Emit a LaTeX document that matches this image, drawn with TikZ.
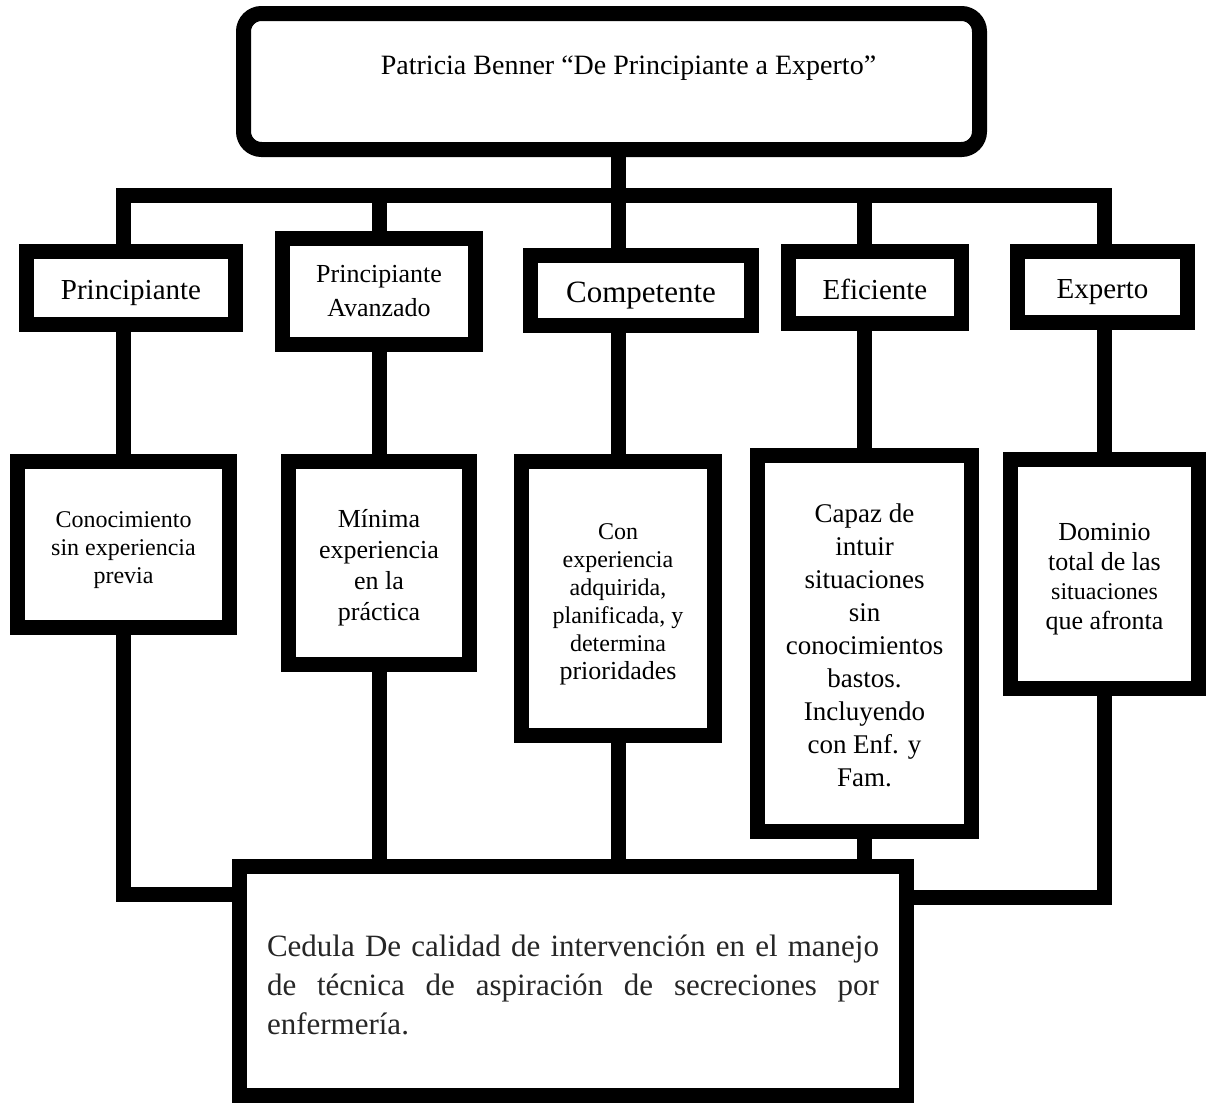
\documentclass[tikz,border=0pt]{standalone}
\usepackage{fontspec}
\setmainfont{Liberation Serif}
\usetikzlibrary{backgrounds}
\newcommand\fsz[2]{\fontsize{#1}{#2}\selectfont}
\newcommand\topgap[1]{\rule{0pt}{#1}}
\tikzset{
  stage/.style={draw, line width=7.5pt, fill=white, align=center, inner sep=0pt},
  level/.style={stage, text height=15pt, text depth=3.5pt},
  link/.style={line width=7.5pt, line cap=rect}
}

\begin{document}
\begin{tikzpicture}[x=0.5pt, y=-0.5pt]
\useasboundingbox (0,0) rectangle (1206,1103);
% titulo
\node[stage, rounded corners=9pt, minimum width=368pt, minimum height=68pt, text depth=16pt, font=\fsz{14pt}{17pt}] (title) at (611.5,81.5) {\hspace*{17pt}Patricia Benner “De Principiante a Experto”};
% niveles
\node[level, minimum width=104.5pt, minimum height=36.5pt, font=\fsz{14.5pt}{17pt}] (p1) at (131,288) {Principiante};
\node[stage, minimum width=96.5pt, minimum height=53pt, font=\fsz{13pt}{17pt}] (p2) at (379,291.5) {Principiante\\Avanzado};
\node[level, minimum width=110.5pt, minimum height=35pt, font=\fsz{15.5pt}{18pt}] (p3) at (641,290.5) {Competente};
\node[level, minimum width=86.5pt, minimum height=36pt, font=\fsz{14.5pt}{17pt}] (p4) at (875,287.5) {Eficiente};
\node[level, minimum width=85pt, minimum height=35.5pt, font=\fsz{14.5pt}{17pt}] (p5) at (1102.5,287) {Experto};
% descripciones
\node[stage, minimum width=106pt, minimum height=83pt, font=\fsz{12pt}{14pt}] (c1) at (123.5,544.5) {\topgap{13.3pt}Conocimiento\\sin experiencia\\previa};
\node[stage, minimum width=90.5pt, minimum height=101.5pt, font=\fsz{13pt}{15.5pt}] (c2) at (379,563) {\topgap{14pt}Mínima\\experiencia\\en la\\práctica};
\node[stage, minimum width=96.5pt, minimum height=137pt, font=\fsz{12pt}{14pt}] (c3) at (618,598.5) {\topgap{13.3pt}Con\\experiencia\\adquirida,\\planificada, y\\determina\\{\fsz{13pt}{14pt}prioridades}};
\node[stage, minimum width=107pt, minimum height=188pt, font=\fsz{13.5pt}{16.5pt}] (c4) at (864.5,643.5) {\topgap{11.5pt}Capaz de\\intuir\\situaciones\\sin\\conocimientos\\bastos.\\Incluyendo\\con Enf. y\\Fam.};
\node[stage, minimum width=94pt, minimum height=114.5pt, font=\fsz{13pt}{14.75pt}] (c5) at (1104.5,574) {\topgap{14pt}Dominio\\total de las\\{\fsz{12pt}{14.75pt}situaciones}\\que afronta};
% cedula
\node[stage, minimum width=333.5pt, minimum height=114.5pt, text width=306pt, align=justify, text=black!85, font=\fsz{15.5pt}{19.5pt}] (low) at (573,981) {\topgap{14.5pt}Cedula De calidad de intervención en el manejo\linebreak de técnica de aspiración de secreciones por\linebreak enfermería.};
% conectores
\begin{scope}[on background layer]
\coordinate (bar) at (0,195);
\coordinate (lknee) at (0,894);
\coordinate (rknee) at (0,897);
\draw[link] (bar -| c1.north) -- (bar -| c5.north);
\draw[link] (title.south -| c3.north) -- (bar -| c3.north);
\foreach \n in {c1,c2,c3,c4,c5}
  \draw[link] (bar -| \n.north) -- (\n.north);
\foreach \n in {c2,c3,c4}
  \draw[link] (\n.south) -- (low.north -| \n.south);
\draw[link] (c1.south) |- (low.west |- lknee);
\draw[link] (c5.south) |- (low.east |- rknee);
\end{scope}
\end{tikzpicture}
\end{document}
